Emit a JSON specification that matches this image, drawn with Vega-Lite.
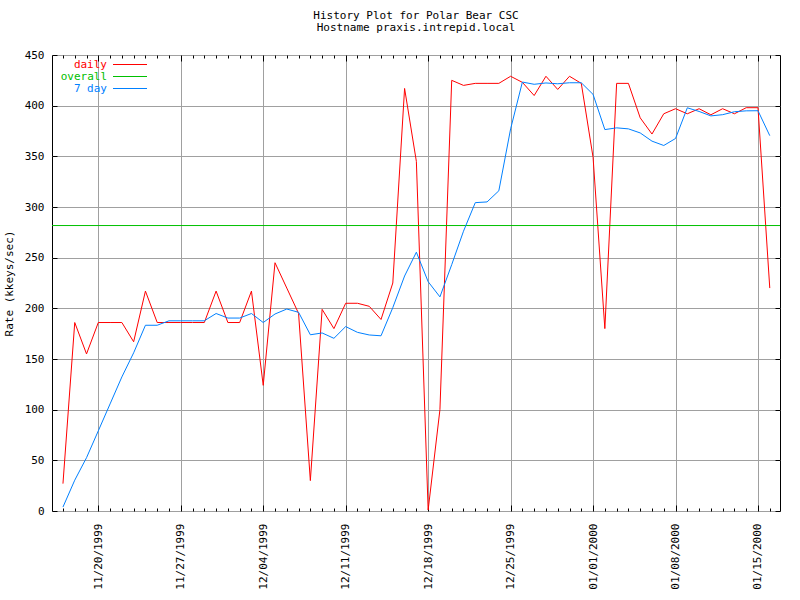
{
  "$schema": "https://vega.github.io/schema/vega-lite/v6.json",
  "width": 728,
  "height": 456,
  "autosize": {"type": "none"},
  "padding": {"left": 52, "top": 55, "right": 20, "bottom": 89},
  "background": "white",
  "config": {
    "view": {"stroke": "black", "strokeWidth": 1},
    "font": "DejaVu Sans Mono"
  },
  "title": {
    "text": ["History Plot for Polar Bear CSC", "Hostname praxis.intrepid.local"],
    "font": "DejaVu Sans Mono",
    "fontSize": 11,
    "fontWeight": "normal",
    "color": "black",
    "anchor": "middle",
    "frame": "group",
    "lineHeight": 12.5,
    "offset": 16
  },
  "data": {
    "values": [
      {"d": "1999-11-17T00:00", "s": "daily", "v": 27},
      {"d": "1999-11-18T00:00", "s": "daily", "v": 186},
      {"d": "1999-11-19T00:00", "s": "daily", "v": 155},
      {"d": "1999-11-20T00:00", "s": "daily", "v": 186},
      {"d": "1999-11-21T00:00", "s": "daily", "v": 186},
      {"d": "1999-11-22T00:00", "s": "daily", "v": 186},
      {"d": "1999-11-23T00:00", "s": "daily", "v": 167},
      {"d": "1999-11-24T00:00", "s": "daily", "v": 217},
      {"d": "1999-11-25T00:00", "s": "daily", "v": 186},
      {"d": "1999-11-26T00:00", "s": "daily", "v": 186},
      {"d": "1999-11-27T00:00", "s": "daily", "v": 186},
      {"d": "1999-11-28T00:00", "s": "daily", "v": 186},
      {"d": "1999-11-29T00:00", "s": "daily", "v": 186},
      {"d": "1999-11-30T00:00", "s": "daily", "v": 217},
      {"d": "1999-12-01T00:00", "s": "daily", "v": 186},
      {"d": "1999-12-02T00:00", "s": "daily", "v": 186},
      {"d": "1999-12-03T00:00", "s": "daily", "v": 217},
      {"d": "1999-12-04T00:00", "s": "daily", "v": 124},
      {"d": "1999-12-05T00:00", "s": "daily", "v": 245},
      {"d": "1999-12-06T00:00", "s": "daily", "v": 220},
      {"d": "1999-12-07T00:00", "s": "daily", "v": 195},
      {"d": "1999-12-08T00:00", "s": "daily", "v": 30},
      {"d": "1999-12-09T00:00", "s": "daily", "v": 199},
      {"d": "1999-12-10T00:00", "s": "daily", "v": 180},
      {"d": "1999-12-11T00:00", "s": "daily", "v": 205},
      {"d": "1999-12-12T00:00", "s": "daily", "v": 205},
      {"d": "1999-12-13T00:00", "s": "daily", "v": 202},
      {"d": "1999-12-14T00:00", "s": "daily", "v": 189},
      {"d": "1999-12-15T00:00", "s": "daily", "v": 225},
      {"d": "1999-12-16T00:00", "s": "daily", "v": 417},
      {"d": "1999-12-17T00:00", "s": "daily", "v": 345},
      {"d": "1999-12-18T00:00", "s": "daily", "v": 1},
      {"d": "1999-12-19T00:00", "s": "daily", "v": 100},
      {"d": "1999-12-20T00:00", "s": "daily", "v": 425},
      {"d": "1999-12-21T00:00", "s": "daily", "v": 420},
      {"d": "1999-12-22T00:00", "s": "daily", "v": 422},
      {"d": "1999-12-23T00:00", "s": "daily", "v": 422},
      {"d": "1999-12-24T00:00", "s": "daily", "v": 422},
      {"d": "1999-12-25T00:00", "s": "daily", "v": 429},
      {"d": "1999-12-26T00:00", "s": "daily", "v": 423},
      {"d": "1999-12-27T00:00", "s": "daily", "v": 410},
      {"d": "1999-12-28T00:00", "s": "daily", "v": 429},
      {"d": "1999-12-29T00:00", "s": "daily", "v": 416},
      {"d": "1999-12-30T00:00", "s": "daily", "v": 429},
      {"d": "1999-12-31T00:00", "s": "daily", "v": 422},
      {"d": "2000-01-01T00:00", "s": "daily", "v": 349},
      {"d": "2000-01-02T00:00", "s": "daily", "v": 180},
      {"d": "2000-01-03T00:00", "s": "daily", "v": 422},
      {"d": "2000-01-04T00:00", "s": "daily", "v": 422},
      {"d": "2000-01-05T00:00", "s": "daily", "v": 388},
      {"d": "2000-01-06T00:00", "s": "daily", "v": 372},
      {"d": "2000-01-07T00:00", "s": "daily", "v": 392},
      {"d": "2000-01-08T00:00", "s": "daily", "v": 397},
      {"d": "2000-01-09T00:00", "s": "daily", "v": 392},
      {"d": "2000-01-10T00:00", "s": "daily", "v": 397},
      {"d": "2000-01-11T00:00", "s": "daily", "v": 391},
      {"d": "2000-01-12T00:00", "s": "daily", "v": 397},
      {"d": "2000-01-13T00:00", "s": "daily", "v": 392},
      {"d": "2000-01-14T00:00", "s": "daily", "v": 398},
      {"d": "2000-01-15T00:00", "s": "daily", "v": 398},
      {"d": "2000-01-16T00:00", "s": "daily", "v": 220},
      {"d": "1999-11-17T00:00", "s": "7 day", "v": 3.9},
      {"d": "1999-11-18T00:00", "s": "7 day", "v": 30.4},
      {"d": "1999-11-19T00:00", "s": "7 day", "v": 52.6},
      {"d": "1999-11-20T00:00", "s": "7 day", "v": 79.1},
      {"d": "1999-11-21T00:00", "s": "7 day", "v": 105.7},
      {"d": "1999-11-22T00:00", "s": "7 day", "v": 132.3},
      {"d": "1999-11-23T00:00", "s": "7 day", "v": 156.1},
      {"d": "1999-11-24T00:00", "s": "7 day", "v": 183.3},
      {"d": "1999-11-25T00:00", "s": "7 day", "v": 183.3},
      {"d": "1999-11-26T00:00", "s": "7 day", "v": 187.7},
      {"d": "1999-11-27T00:00", "s": "7 day", "v": 187.7},
      {"d": "1999-11-28T00:00", "s": "7 day", "v": 187.7},
      {"d": "1999-11-29T00:00", "s": "7 day", "v": 187.7},
      {"d": "1999-11-30T00:00", "s": "7 day", "v": 194.9},
      {"d": "1999-12-01T00:00", "s": "7 day", "v": 190.4},
      {"d": "1999-12-02T00:00", "s": "7 day", "v": 190.4},
      {"d": "1999-12-03T00:00", "s": "7 day", "v": 194.9},
      {"d": "1999-12-04T00:00", "s": "7 day", "v": 186.0},
      {"d": "1999-12-05T00:00", "s": "7 day", "v": 194.4},
      {"d": "1999-12-06T00:00", "s": "7 day", "v": 199.3},
      {"d": "1999-12-07T00:00", "s": "7 day", "v": 196.1},
      {"d": "1999-12-08T00:00", "s": "7 day", "v": 173.9},
      {"d": "1999-12-09T00:00", "s": "7 day", "v": 175.7},
      {"d": "1999-12-10T00:00", "s": "7 day", "v": 170.4},
      {"d": "1999-12-11T00:00", "s": "7 day", "v": 182.0},
      {"d": "1999-12-12T00:00", "s": "7 day", "v": 176.3},
      {"d": "1999-12-13T00:00", "s": "7 day", "v": 173.7},
      {"d": "1999-12-14T00:00", "s": "7 day", "v": 172.9},
      {"d": "1999-12-15T00:00", "s": "7 day", "v": 200.7},
      {"d": "1999-12-16T00:00", "s": "7 day", "v": 231.9},
      {"d": "1999-12-17T00:00", "s": "7 day", "v": 255.4},
      {"d": "1999-12-18T00:00", "s": "7 day", "v": 226.3},
      {"d": "1999-12-19T00:00", "s": "7 day", "v": 211.3},
      {"d": "1999-12-20T00:00", "s": "7 day", "v": 243.1},
      {"d": "1999-12-21T00:00", "s": "7 day", "v": 276.1},
      {"d": "1999-12-22T00:00", "s": "7 day", "v": 304.3},
      {"d": "1999-12-23T00:00", "s": "7 day", "v": 305.0},
      {"d": "1999-12-24T00:00", "s": "7 day", "v": 316.0},
      {"d": "1999-12-25T00:00", "s": "7 day", "v": 377.1},
      {"d": "1999-12-26T00:00", "s": "7 day", "v": 423.3},
      {"d": "1999-12-27T00:00", "s": "7 day", "v": 421.1},
      {"d": "1999-12-28T00:00", "s": "7 day", "v": 422.4},
      {"d": "1999-12-29T00:00", "s": "7 day", "v": 421.6},
      {"d": "1999-12-30T00:00", "s": "7 day", "v": 422.6},
      {"d": "1999-12-31T00:00", "s": "7 day", "v": 422.6},
      {"d": "2000-01-01T00:00", "s": "7 day", "v": 411.1},
      {"d": "2000-01-02T00:00", "s": "7 day", "v": 376.4},
      {"d": "2000-01-03T00:00", "s": "7 day", "v": 378.1},
      {"d": "2000-01-04T00:00", "s": "7 day", "v": 377.1},
      {"d": "2000-01-05T00:00", "s": "7 day", "v": 373.1},
      {"d": "2000-01-06T00:00", "s": "7 day", "v": 365.0},
      {"d": "2000-01-07T00:00", "s": "7 day", "v": 360.7},
      {"d": "2000-01-08T00:00", "s": "7 day", "v": 367.6},
      {"d": "2000-01-09T00:00", "s": "7 day", "v": 397.9},
      {"d": "2000-01-10T00:00", "s": "7 day", "v": 394.3},
      {"d": "2000-01-11T00:00", "s": "7 day", "v": 389.9},
      {"d": "2000-01-12T00:00", "s": "7 day", "v": 391.1},
      {"d": "2000-01-13T00:00", "s": "7 day", "v": 394.0},
      {"d": "2000-01-14T00:00", "s": "7 day", "v": 394.9},
      {"d": "2000-01-15T00:00", "s": "7 day", "v": 395.0},
      {"d": "2000-01-16T00:00", "s": "7 day", "v": 370.4},
      {"s": "overall", "v": 281.7}
    ]
  },
  "resolve": {"axis": {"x": "independent", "y": "independent"}},
  "layer": [
    {
      "transform": [{"filter": "datum.s === 'daily'"}],
      "mark": {"type": "line", "strokeWidth": 1, "clip": true},
      "encoding": {
        "x": {
          "field": "d", "type": "temporal",
          "scale": {"domain": [{"year": 1999, "month": 11, "date": 16, "hours": 1, "minutes": 40}, {"year": 2000, "month": 1, "date": 16, "hours": 20, "minutes": 50}]},
          "axis": {
            "title": null,
            "orient": "bottom",
            "tickCount": {"interval": "day", "step": 1},
            "labelExpr": "day(datum.value) == 6 ? timeFormat(datum.value, '%m/%d/%Y') : ''",
            "labelAngle": 270,
            "labelAlign": "right",
            "labelBaseline": "middle",
            "labelFont": "DejaVu Sans Mono",
            "labelFontSize": 11,
            "labelColor": "black",
            "labelPadding": 18,
            "labelOverlap": false,
            "labelBound": false,
            "labelFlush": false,
            "grid": true,
            "gridColor": "#a0a0a0",
            "gridOpacity": {"condition": {"test": "day(datum.value) == 6", "value": 1}, "value": 0},
            "tickColor": "black",
            "tickSize": {"condition": {"test": "day(datum.value) == 6", "value": -6}, "value": -3},
            "domain": false
          }
        },
        "y": {
          "field": "v", "type": "quantitative",
          "scale": {"domain": [0, 450], "nice": false},
          "axis": {
            "orient": "left",
            "title": "Rate (kkeys/sec)",
            "titleFont": "DejaVu Sans Mono",
            "titleFontSize": 11,
            "titleFontWeight": "normal",
            "titleColor": "black",
            "titlePadding": 10,
            "values": [0, 50, 100, 150, 200, 250, 300, 350, 400, 450],
            "labelFont": "DejaVu Sans Mono",
            "labelFontSize": 11,
            "labelColor": "black",
            "labelPadding": 13,
            "tickSize": -5,
            "tickColor": "black",
            "grid": true,
            "gridColor": "#a0a0a0",
            "domain": false
          }
        },
        "color": {
          "field": "s", "type": "nominal",
          "scale": {"domain": ["daily", "overall", "7 day"], "range": ["#ff0000", "#00c000", "#0080ff"]},
          "legend": {
            "title": null,
            "orient": "none",
            "legendX": 72.5,
            "legendY": 4,
            "padding": 0,
            "rowPadding": 0,
            "symbolType": "M-3.4,0H3.4",
            "symbolSize": 100,
            "symbolStrokeWidth": 1,
            "symbolFillColor": "transparent",
            "labelFont": "DejaVu Sans Mono",
            "labelFontSize": 11,
            "labelAlign": "right",
            "labelOffset": -28.5,
            "encode": {
              "labels": {"update": {"fill": {"scale": "color", "field": "value"}}},
              "symbols": {"update": {"stroke": {"scale": "color", "field": "value"}, "fill": {"value": "transparent"}}}
            }
          }
        }
      }
    },
    {
      "transform": [{"filter": "datum.s === 'overall'"}],
      "mark": {"type": "rule", "strokeWidth": 1},
      "encoding": {
        "y": {"field": "v", "type": "quantitative", "axis": null},
        "color": {"field": "s", "type": "nominal"}
      }
    },
    {
      "transform": [{"filter": "datum.s === '7 day'"}],
      "mark": {"type": "line", "strokeWidth": 1, "clip": true},
      "encoding": {
        "x": {
          "field": "d", "type": "temporal",
          "axis": {
            "title": null,
            "orient": "top",
            "labels": false,
            "grid": false,
            "domain": false,
            "tickCount": {"interval": "day", "step": 1},
            "tickColor": "black",
            "tickSize": {"condition": {"test": "day(datum.value) == 6", "value": -6}, "value": -3}
          }
        },
        "y": {
          "field": "v", "type": "quantitative",
          "axis": {
            "title": null,
            "orient": "right",
            "labels": false,
            "grid": false,
            "domain": false,
            "values": [0, 50, 100, 150, 200, 250, 300, 350, 400, 450],
            "tickColor": "black",
            "tickSize": -5
          }
        },
        "color": {"field": "s", "type": "nominal"}
      }
    }
  ]
}
